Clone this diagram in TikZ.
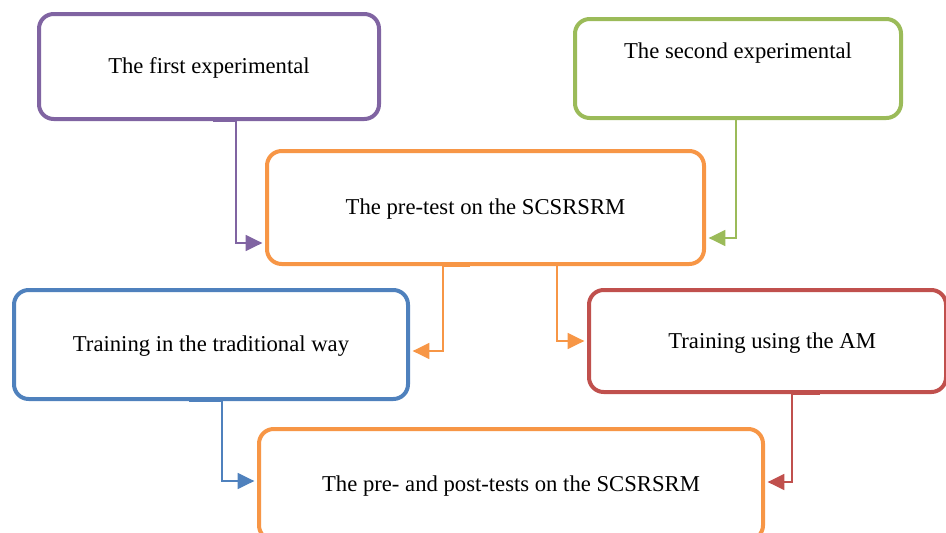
\documentclass[tikz,border=0pt]{standalone}
\usepackage{fontspec}
\setmainfont{Liberation Serif}
\usetikzlibrary{arrows.meta,calc}

\definecolor{boxpurple}{RGB}{128,100,162}
\definecolor{boxgreen}{RGB}{155,187,89}
\definecolor{boxorange}{RGB}{247,150,70}
\definecolor{boxblue}{RGB}{79,129,189}
\definecolor{boxred}{RGB}{192,80,77}

\tikzset{every picture/.style={line width=0.75pt}}
\tikzset{
  stagebox/.style={draw, rounded corners=11pt, line width=3pt, fill=white,
    inner sep=0pt, text height=11.2pt, text depth=0pt,
    font=\fontsize{17}{20}\selectfont},
  elbow/.style={line width=1.1pt, shorten >=2pt,
    -{Triangle[length=12.5pt,width=12pt]}}
}

\begin{document}
\begin{tikzpicture}[x=0.75pt,y=0.75pt,yscale=-1,xscale=1]
\clip (0,0) rectangle (946,532);

%Shape: Rounded Rect [id:first] 
\node [stagebox, draw=boxpurple, minimum width=255pt, minimum height=78.75pt] (first) at (209,66.5) {The first experimental};
%Shape: Rounded Rect [id:second] 
\node [stagebox, draw=boxgreen, minimum width=244.5pt, minimum height=74.25pt] (second) at (738,68.5) {};
% Text Node
\node [font=\fontsize{17}{20}\selectfont, inner sep=0pt, text height=11.2pt, text depth=0pt] (secondtext) at (738,51) {The second experimental};
%Shape: Rounded Rect [id:pretest] 
\node [stagebox, draw=boxorange, minimum width=327.75pt, minimum height=84.75pt] (pretest) at (485.5,207.5) {The pre-test on the SCSRSRM};
%Shape: Rounded Rect [id:traditional] 
\node [stagebox, draw=boxblue, minimum width=295.5pt, minimum height=81.75pt] (traditional) at (211,344.5) {Training in the traditional way};
%Shape: Rounded Rect [id:am] 
\node [stagebox, draw=boxred, minimum width=267.75pt, minimum height=76.5pt] (am) at (767.5,341) {\hspace*{7pt}Training using the AM};
%Shape: Rounded Rect [id:posttest] 
\node [stagebox, draw=boxorange, minimum width=378pt, minimum height=83.25pt] (posttest) at (511,484.5) {The pre- and post-tests on the SCSRSRM};

%Connector Lines 
\draw [elbow, boxpurple] ($(first.south)+(4,0)$) -- ++(23,0) |- ($(pretest.west)+(0,35.5)$);
\draw [elbow, boxgreen] ($(second.south)+(-2,0)$) |- ($(pretest.east)+(0,30.5)$);
\draw [elbow, boxorange] ($(pretest.south)+(-15.5,0)$) -- ++(-27,0) |- ($(traditional.east)+(0,6.5)$);
\draw [elbow, boxorange] ($(pretest.south)+(71.5,0)$) |- (am.west);
\draw [elbow, boxblue] ($(traditional.south)+(-22,0)$) -- ++(33,0) |- ($(posttest.west)+(0,-3.5)$);
\draw [elbow, boxred] ($(am.south)+(52.5,0)$) -- ++(-28,0) |- ($(posttest.east)+(0,-2.5)$);

\end{tikzpicture}
\end{document}
